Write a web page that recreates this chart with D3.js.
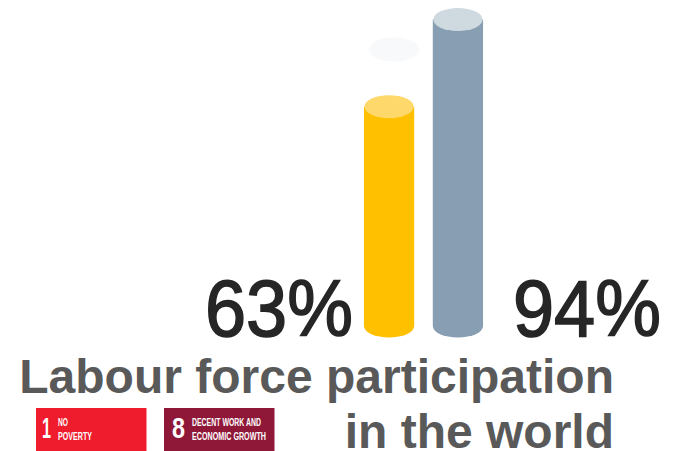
<!DOCTYPE html>
<html><head><meta charset="utf-8">
<script src="https://cdn.jsdelivr.net/npm/d3@7"></script>
<style>html,body{margin:0;padding:0;background:#fff}svg{display:block}text{font-family:"Liberation Sans",Arial,sans-serif}</style>
</head><body><svg id="c" width="675" height="451"></svg>
<script>
const categories=["Women","Men"];
const values=[63,94];
const valueLabels=["63%","94%"];
const bodyColors=["#FFC000","#879EB3"];
const capColors=["#FFD86B","#CFDAE0"];
const titleLines=["Labour force participation","in the world"];
const badgeNumbers=["1","8"];
const badgeLines=[["NO","POVERTY"],["DECENT WORK AND","ECONOMIC GROWTH"]];
const badgeColors=["#EF1C2E","#8F1838"];

const svg=d3.select("#c");
const x=d3.scaleBand().domain(categories).range([355,492]).paddingInner(0.27).paddingOuter(0.13);
const y=d3.scaleLinear().domain([-15,94]).range([326,19.5]);
const ry=11.5;

svg.append("ellipse").attr("cx",394).attr("cy",49.5).attr("rx",25).attr("ry",12).attr("fill","#F7F9FA");

const g=svg.selectAll("g.bar").data(categories).join("g").attr("class","bar");
g.append("path").attr("fill",(d,i)=>bodyColors[i]).attr("d",(d,i)=>{
  const l=x(d),w=x.bandwidth(),t=y(values[i]),b=y(-15);
  return `M${l},${t}V${b}A${w/2},${ry} 0 0 0 ${l+w},${b}V${t}Z`;
});
g.append("ellipse").attr("fill",(d,i)=>capColors[i])
  .attr("cx",d=>x(d)+x.bandwidth()/2).attr("cy",(d,i)=>y(values[i]))
  .attr("rx",x.bandwidth()/2-0.5).attr("ry",ry);

const labelX=[205,513];
svg.selectAll("text.val").data(valueLabels).join("text").attr("class","val")
  .attr("x",(d,i)=>labelX[i]).attr("y",336).attr("font-size",80).attr("fill","#262626")
  .attr("stroke","#262626").attr("stroke-width",1.6)
  .attr("textLength",148).attr("lengthAdjust","spacingAndGlyphs")
  .text(d=>d);

const titleY=[393,448];
svg.selectAll("text.title").data(titleLines).join("text").attr("class","title")
  .attr("x",614).attr("y",(d,i)=>titleY[i]).attr("text-anchor","end")
  .attr("font-size",48).attr("font-weight",700).attr("fill","#595959").text(d=>d);

const bx=d3.scaleOrdinal().domain(badgeNumbers).range([36,164]);
const numX=[6,8],numW=[9,13];
const lineX=[22,28],lineW=[[10,34],[69,74]];
const b=svg.selectAll("g.badge").data(badgeNumbers).join("g").attr("class","badge")
  .attr("transform",d=>`translate(${bx(d)},408)`);
b.append("rect").attr("width",110.5).attr("height",43).attr("fill",(d,i)=>badgeColors[i]);
b.append("text").attr("x",(d,i)=>numX[i]).attr("y",30).attr("font-size",29).attr("font-weight",700)
  .attr("textLength",(d,i)=>numW[i]).attr("lengthAdjust","spacingAndGlyphs").attr("fill","#fff").text(d=>d);
b.each(function(d,i){
  d3.select(this).selectAll("text.ln").data(badgeLines[i]).join("text").attr("class","ln")
    .attr("x",lineX[i]).attr("y",(t,j)=>j?31.5:18)
    .attr("font-size",10.5).attr("font-weight",700).attr("fill","#fff")
    .attr("textLength",(t,j)=>lineW[i][j]).attr("lengthAdjust","spacingAndGlyphs")
    .text(t=>t);
});
</script></body></html>
